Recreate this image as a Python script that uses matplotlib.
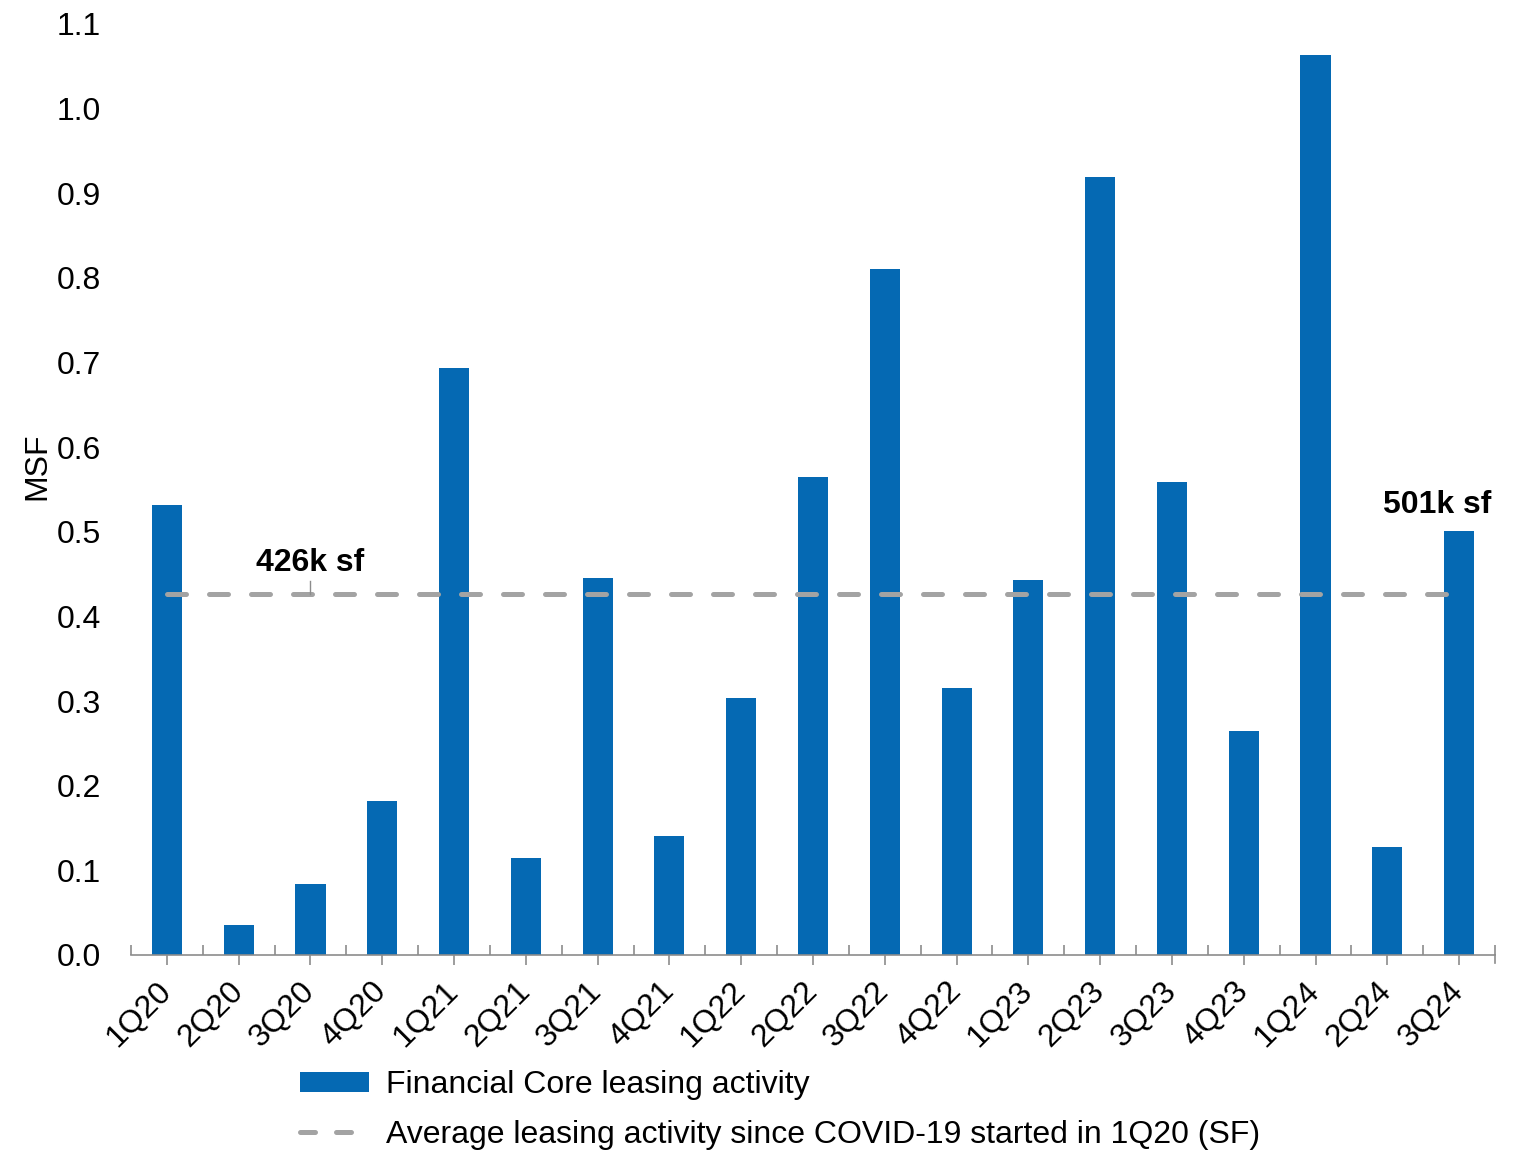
import matplotlib
matplotlib.use("Agg")
import matplotlib.pyplot as plt
import numpy as np
from matplotlib.lines import Line2D
from matplotlib.patches import Patch

plt.rcParams['font.family'] = ['Liberation Sans', 'DejaVu Sans']

quarters = ["1Q20", "2Q20", "3Q20", "4Q20", "1Q21", "2Q21", "3Q21", "4Q21",
            "1Q22", "2Q22", "3Q22", "4Q22", "1Q23", "2Q23", "3Q23", "4Q23",
            "1Q24", "2Q24", "3Q24"]
leasing_msf = [0.532, 0.035, 0.084, 0.182, 0.694, 0.115, 0.445, 0.141,
               0.304, 0.565, 0.810, 0.315, 0.443, 0.919, 0.559, 0.265,
               1.063, 0.128, 0.501]
average_msf = 0.426
yticks = [0.0, 0.1, 0.2, 0.3, 0.4, 0.5, 0.6, 0.7, 0.8, 0.9, 1.0, 1.1]

bar_color = "#0569B3"
avg_color = "#A3A3A3"
axis_color = "#8C8C8C"
fs = 23
avg_lw = 3.6
avg_dashes = (3.8, 4.6)

fig = plt.figure(figsize=(15.28, 11.55), dpi=100)
ax = fig.add_axes([131 / 1528, 1 - 955 / 1155, (1495 - 131) / 1528, (955 - 24) / 1155])

x = np.arange(len(quarters))
ax.bar(x, leasing_msf, width=0.42, color=bar_color, zorder=2)
ax.plot([x[0], x[-1]], [average_msf, average_msf], color=avg_color, lw=avg_lw,
        dashes=avg_dashes, dash_capstyle='round', zorder=3)

ax.set_xlim(-0.5, len(quarters) - 0.5)
ax.set_ylim(0, 1.1)

for s in ["top", "right", "left"]:
    ax.spines[s].set_visible(False)
ax.spines["bottom"].set_color(axis_color)
ax.spines["bottom"].set_linewidth(1.2)

ax.set_yticks(yticks)
ax.set_yticklabels([f"{v:.1f}" for v in yticks], fontsize=fs)
ax.tick_params(axis='y', length=0, pad=21.5)

# category boundaries: ticks pointing up; category centres: ticks pointing down
ax.set_xticks(np.arange(-0.5, len(quarters)), minor=False)
ax.set_xticklabels([])
ax.tick_params(axis='x', which='major', direction='in', length=7, width=1.2, color=axis_color)
ax.set_xticks(x, minor=True)
ax.set_xticklabels(quarters, minor=True, fontsize=fs, rotation=45,
                   ha='right', va='center', rotation_mode='anchor')
ax.tick_params(axis='x', which='minor', direction='out', length=7, width=1.2,
               color=axis_color, pad=16)
# right-end tick spans both sides
ax.plot([len(quarters) - 0.5] * 2, [-0.009, 0.0], color=axis_color, lw=1.2,
        clip_on=False)

ax.set_ylabel("MSF", fontsize=fs)
ax.yaxis.set_label_coords(-0.058, 0.525)

# annotations
ax.plot([2, 2], [average_msf, average_msf + 0.016], color=axis_color, lw=1.0, zorder=3)
ax.text(2, average_msf + 0.020, "426k sf", fontsize=fs, fontweight='bold',
        ha='center', va='bottom')
ax.text(x[-1] - 0.3, leasing_msf[-1] + 0.013, "501k sf", fontsize=fs, fontweight='bold',
        ha='center', va='bottom')

handles = [Patch(facecolor=bar_color, edgecolor='none'),
           Line2D([0], [0], color=avg_color, lw=avg_lw, dashes=(3.0, 4.2),
                  dash_capstyle='round')]
labels = ["Financial Core leasing activity",
          "Average leasing activity since COVID-19 started in 1Q20 (SF)"]
fig.legend(handles, labels, loc='upper left', bbox_to_anchor=(300 / 1528, 1 - 1070 / 1155),
           frameon=False, fontsize=fs, handlelength=2.15, handleheight=0.6,
           labelspacing=0.62, handletextpad=0.55, borderaxespad=0, borderpad=0)

fig.savefig("out.png", dpi=100)
